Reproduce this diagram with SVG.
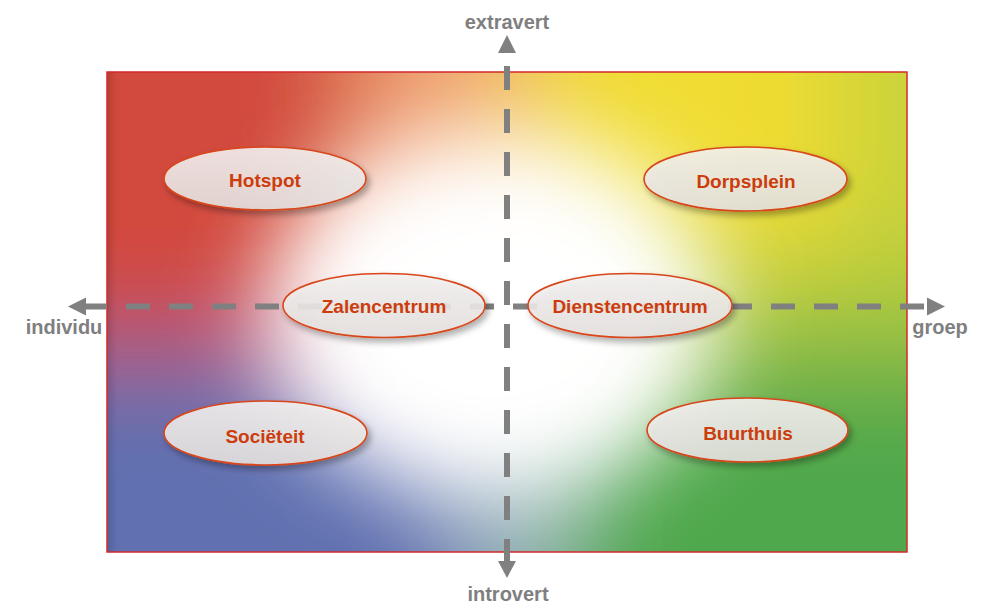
<svg xmlns="http://www.w3.org/2000/svg" width="1000" height="613" viewBox="0 0 1000 613">
<style>
.node ellipse{fill:url(#nodeFill);fill-opacity:0.88;stroke:#d8461a;stroke-width:1.6;filter:url(#shadow)}
.node text{font-family:"Liberation Sans",Arial,sans-serif;font-weight:bold;font-size:19px;fill:#cc3c0c;text-anchor:middle}
.axislabel{font-family:"Liberation Sans",Arial,sans-serif;font-weight:bold;font-size:20px;fill:#7f7f7f;text-anchor:middle}
.axis{stroke:#808080;stroke-width:6;stroke-dasharray:24 19;fill:none}
.head{fill:#808080}
</style>
<defs>
<clipPath id="boxClip"><rect x="107" y="72" width="800" height="480"/></clipPath>
<filter id="baseBlur" filterUnits="userSpaceOnUse" x="-300" y="-300" width="1600" height="1200">
<feGaussianBlur stdDeviation="55"/>
</filter>
<filter id="whiteBlur" filterUnits="userSpaceOnUse" x="-300" y="-300" width="1600" height="1200">
<feGaussianBlur stdDeviation="45"/>
</filter>
<filter id="shadow" x="-20%" y="-30%" width="150%" height="180%">
<feDropShadow dx="3" dy="4" stdDeviation="3" flood-color="#000" flood-opacity="0.35"/>
</filter>
<linearGradient id="nodeFill" x1="0" y1="0" x2="0" y2="1">
<stop offset="0" stop-color="#f4f2f1"/>
<stop offset="1" stop-color="#e6e2e0"/>
</linearGradient>
<linearGradient id="leftShade" x1="0" y1="0" x2="1" y2="0">
<stop offset="0" stop-color="#000" stop-opacity="0.14"/>
<stop offset="1" stop-color="#000" stop-opacity="0"/>
</linearGradient>
</defs>

<g id="background" clip-path="url(#boxClip)">
<rect x="107" y="72" width="800" height="480" fill="#ffffff"/>
<g filter="url(#baseBlur)">
<rect x="-100" y="-100" width="460" height="450" fill="#d24a3c"/>
<rect x="360" y="-100" width="160" height="450" fill="#f0a070"/>
<rect x="520" y="-100" width="320" height="360" fill="#f0dc30"/>
<rect x="840" y="-100" width="300" height="360" fill="#c8d23a"/>
<rect x="520" y="260" width="620" height="100" fill="#a8c840"/>
<rect x="560" y="360" width="580" height="400" fill="#50a84c"/>
<rect x="-100" y="350" width="570" height="410" fill="#6070b0"/>
<rect x="470" y="350" width="90" height="410" fill="#a0b8c0"/>
</g>
<g filter="url(#whiteBlur)">
<ellipse cx="492" cy="315" rx="228" ry="185" fill="#ffffff"/>
</g>
<rect x="107" y="72" width="10" height="480" fill="url(#leftShade)"/>
</g>
<rect x="107" y="72" width="800" height="480" fill="none" stroke="#d42a2a" stroke-width="1.5"/>

<g id="connectors">
<line class="axis" x1="83" y1="306.5" x2="927" y2="306.5"/>
<line class="axis" x1="507" y1="66" x2="507" y2="563"/>
<polygon class="head" points="68,306.5 86,297.5 86,315.5"/>
<polygon class="head" points="945,306.5 927,297.5 927,315.5"/>
<polygon class="head" points="507,35 498,53 516,53"/>
<polygon class="head" points="507,578 498,561 516,561"/>
</g>

<g id="axis-labels">
<text class="axislabel" x="507" y="29">extravert</text>
<text class="axislabel" x="508" y="601">introvert</text>
<text class="axislabel" x="64" y="334">individu</text>
<text class="axislabel" x="940" y="334">groep</text>
</g>

<g id="hotspot" class="node"><ellipse cx="265" cy="178.5" rx="101" ry="31.5"/><text x="265" y="187">Hotspot</text></g>
<g id="dorpsplein" class="node"><ellipse cx="745.5" cy="179" rx="101.5" ry="32"/><text x="746" y="188">Dorpsplein</text></g>
<g id="zalencentrum" class="node"><ellipse cx="384" cy="305.5" rx="101" ry="32"/><text x="384" y="313">Zalencentrum</text></g>
<g id="dienstencentrum" class="node"><ellipse cx="630" cy="305.5" rx="102" ry="32"/><text x="630" y="313">Dienstencentrum</text></g>
<g id="societeit" class="node"><ellipse cx="265.5" cy="433" rx="101.5" ry="32"/><text x="265" y="443">Sociëteit</text></g>
<g id="buurthuis" class="node"><ellipse cx="747.5" cy="430" rx="100.5" ry="32"/><text x="748" y="440">Buurthuis</text></g>
</svg>
